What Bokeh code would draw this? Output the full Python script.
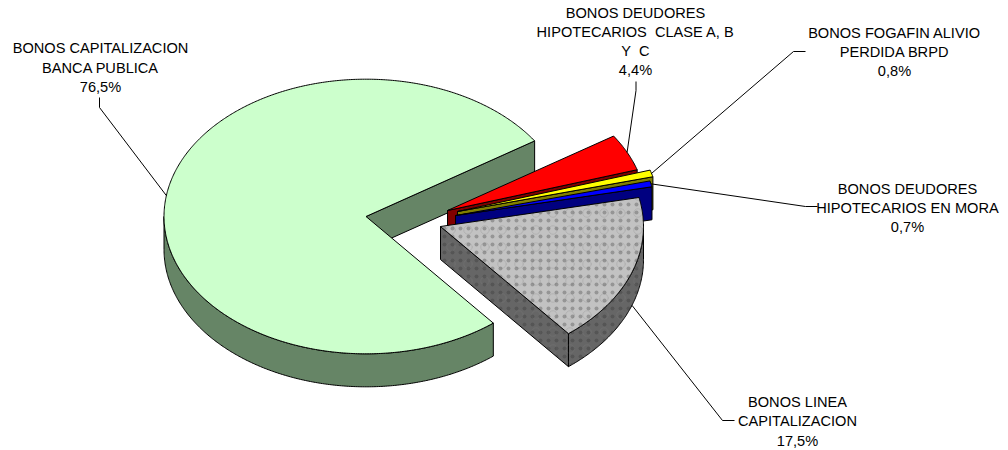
import math
from bokeh.plotting import figure
from bokeh.models import Range1d, ColumnDataSource
from bokeh.core.properties import value
from bokeh.embed import file_html
from bokeh.resources import INLINE

# data, in drawing order (clockwise from the start angle)
names = ["BONOS DEUDORES HIPOTECARIOS CLASE A, B Y C", "BONOS FOGAFIN ALIVIO PERDIDA BRPD",
         "BONOS DEUDORES HIPOTECARIOS EN MORA", "BONOS LINEA CAPITALIZACION",
         "BONOS CAPITALIZACION BANCA PUBLICA"]
values = [4.4, 0.8, 0.7, 17.5, 76.5]
top_colors = ["#FF0000", "#FFFF00", "#0000FF", "#C2C2C2", "#CCFFCC"]
side_colors = ["#800000", "#808000", "#000080", "#666666", "#668566"]

# layout
W, H = 1008, 450
START = 33.4
RX, RY, DEPTH = 203.0, 138.0, 33.0
apex_x = [447, 457, 455, 440, 365.5]
apex_y = [210, 211, 215, 226, 216]
scale = [0.98, 0.995, 0.99, 1.0, 0.995]
LW = 1.0

labels = [
    (100, 47.5, "BONOS CAPITALIZACION"), (100, 67, "BANCA PUBLICA"), (100, 86, "76,5%"),
    (635, 12, "BONOS DEUDORES"), (635, 31, "HIPOTECARIOS \u00a0CLASE A, B"), (635, 50, "Y \u00a0C"), (635, 69, "4,4%"),
    (894, 32, "BONOS FOGAFIN ALIVIO"), (894, 51, "PERDIDA BRPD"), (894, 70, "0,8%"),
    (907, 188, "BONOS DEUDORES"), (907, 207, "HIPOTECARIOS EN MORA"), (907, 226, "0,7%"),
    (797, 401, "BONOS LINEA"), (797, 420, "CAPITALIZACION"), (797, 440, "17,5%"),
]
# leader elbows per slice
elbow_x = [[635.5, 635.5], [793, 805], [805, 817], [722, 734], [99, 99]]
elbow_y = [[90, 81], [51, 51], [206, 206], [420, 420], [107, 97]]

p = figure(width=W, height=H, output_backend="svg", toolbar_location=None,
           x_range=Range1d(0, W), y_range=Range1d(H, 0),
           min_border=0, outline_line_color=None)
p.axis.visible = False
p.grid.visible = False


def rim(i, deg, dz=0.0):
    t = math.radians(deg)
    return apex_x[i] + scale[i] * RX * math.cos(t), apex_y[i] - scale[i] * RY * math.sin(t) + dz


def arc(i, a, b, dz=0.0):
    n = max(2, int(abs(a - b) * 2))
    return [rim(i, a + (b - a) * k / n, dz) for k in range(n + 1)]


def poly(pts, fill, hatch=False):
    xs, ys = [q[0] for q in pts], [q[1] for q in pts]
    p.patch(xs, ys, fill_color=fill, line_color="#000000", line_width=LW, line_join="round")
    if hatch:
        p.patch(xs, ys, fill_alpha=0, line_alpha=0, hatch_pattern="ring", hatch_color="#808080",
                hatch_alpha=0.25, hatch_scale=17, hatch_weight=1)
        p.patch(xs, ys, fill_alpha=0, line_alpha=0, hatch_pattern="dot", hatch_color="#303030",
                hatch_alpha=0.3, hatch_scale=8, hatch_weight=1)


total = sum(values)
angles = []
a = START
for v in values:
    b = a - v / total * 360.0
    angles.append((a, b))
    a = b

# big slice is drawn first (it lies behind the exploded ones)
draw_order = [4, 0, 1, 2, 3]
for i in draw_order:
    ax, ay = apex_x[i], apex_y[i]
    a, b = angles[i]
    dotted = i == 3
    fx, fy = rim(i, b)
    poly([(ax, ay), (fx, fy), (fx, fy + DEPTH), (ax, ay + DEPTH)], side_colors[i], dotted)
    # outer wall (only where the rim faces the viewer)
    wall_a = max(b, -180.0)
    wall_b = min(a, 0.0)
    if wall_b > wall_a:
        poly(arc(i, wall_a, wall_b) + arc(i, wall_b, wall_a, DEPTH), side_colors[i], dotted)
    poly([(ax, ay)] + arc(i, a, b), top_colors[i], dotted)

# leaders start at the middle of each slice's rim
for i in range(5):
    a, b = angles[i]
    mx, my = rim(i, (a + b) / 2, DEPTH if i == 3 else 0.0)
    p.line([mx] + elbow_x[i], [my] + elbow_y[i], line_color="#000000", line_width=1.0)

src = ColumnDataSource(dict(x=[l[0] for l in labels], y=[l[1] for l in labels], t=[l[2] for l in labels]))
p.text("x", "y", "t", source=src, text_font=value("Liberation Sans"), text_font_size="14.6px",
       text_color="#000000", text_align="center", text_baseline="middle")

open("out.html", "w").write(file_html(p, INLINE))
